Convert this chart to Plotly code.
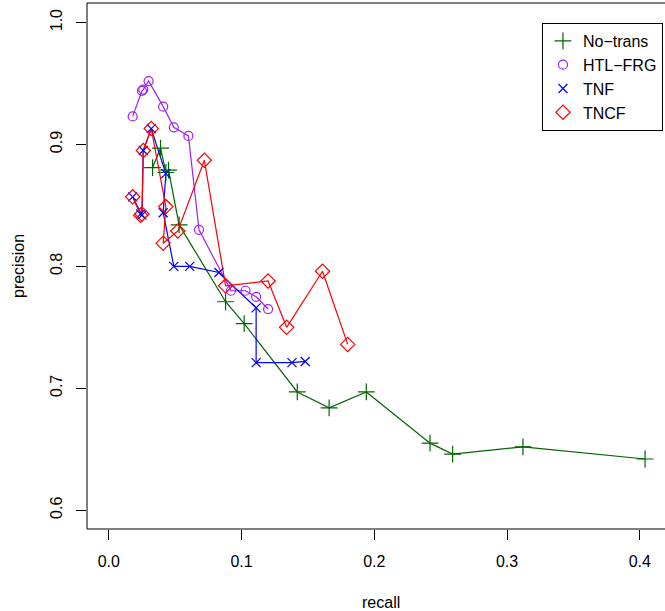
import plotly.graph_objects as go

# ---- data ----
notrans_recall = [0.033, 0.039, 0.043, 0.045, 0.053, 0.088, 0.102, 0.142, 0.166, 0.194, 0.242, 0.259, 0.312, 0.404]
notrans_prec   = [0.881, 0.897, 0.877, 0.879, 0.834, 0.771, 0.753, 0.697, 0.684, 0.697, 0.655, 0.646, 0.652, 0.642]

htl_recall = [0.018, 0.025, 0.026, 0.030, 0.041, 0.049, 0.060, 0.068, 0.092, 0.103, 0.111, 0.120]
htl_prec   = [0.923, 0.944, 0.945, 0.952, 0.931, 0.914, 0.907, 0.830, 0.780, 0.780, 0.775, 0.765]

tnf_recall = [0.018, 0.024, 0.025, 0.026, 0.032, 0.043, 0.041, 0.049, 0.061, 0.083, 0.111, 0.111, 0.138, 0.148]
tnf_prec   = [0.857, 0.843, 0.842, 0.895, 0.913, 0.876, 0.844, 0.800, 0.800, 0.795, 0.766, 0.721, 0.721, 0.722]

tncf_recall = [0.018, 0.024, 0.025, 0.026, 0.032, 0.043, 0.041, 0.052, 0.072, 0.088, 0.120, 0.134, 0.161, 0.180]
tncf_prec   = [0.857, 0.842, 0.843, 0.895, 0.913, 0.849, 0.819, 0.829, 0.887, 0.784, 0.788, 0.750, 0.796, 0.736]

series_names = ["No\u2212trans", "HTL\u2212FRG", "TNF", "TNCF"]
x_ticks = [0.0, 0.1, 0.2, 0.3, 0.4]
y_ticks = [0.6, 0.7, 0.8, 0.9, 1.0]

FONT = "Liberation Sans, Arial, Helvetica, sans-serif"
styles = [
    ("#006400", "cross-thin-open", 12),
    ("#A020F0", "circle-open", 9),
    ("#0000FF", "x-thin-open", 9),
    ("#FF0000", "diamond-open", 11),
]
data = [(notrans_recall, notrans_prec), (htl_recall, htl_prec),
        (tnf_recall, tnf_prec), (tncf_recall, tncf_prec)]

fig = go.Figure()
for (xs, ys), name, (col, sym, sz) in zip(data, series_names, styles):
    fig.add_trace(go.Scatter(x=xs, y=ys, mode="lines", showlegend=False,
                             line=dict(color=col, width=1.2), hoverinfo="skip"))
for (xs, ys), name, (col, sym, sz) in zip(data, series_names, styles):
    fig.add_trace(go.Scatter(x=xs, y=ys, mode="markers", name=name,
                             marker=dict(symbol=sym, size=sz, color=col,
                                         line=dict(color=col, width=1.2))))

W, H = 665, 611
ml, mr, mt, mb = 87, 0, 3, 82
fig.update_layout(
    width=W, height=H,
    margin=dict(l=ml, r=mr, t=mt, b=mb, autoexpand=False),
    paper_bgcolor="white", plot_bgcolor="white",
    font=dict(family=FONT, size=16, color="black"),
    showlegend=True,
    legend=dict(x=0.9965, y=0.962, xanchor="right", yanchor="top",
                bordercolor="black", borderwidth=1, bgcolor="white",
                font=dict(family=FONT, size=16, color="black"),
                itemwidth=30, tracegroupgap=0),
    xaxis=dict(range=[-0.0164, 0.4190], tickvals=x_ticks, tickformat=".1f",
               showgrid=False, zeroline=False, showline=False,
               ticks="outside", ticklen=10, tickcolor="black", tickwidth=1,
               ticklabelstandoff=8, tickfont=dict(family=FONT, size=16)),
    yaxis=dict(range=[0.5846, 1.016], tickvals=y_ticks, tickformat=".1f",
               showgrid=False, zeroline=False, showline=False,
               ticks="outside", ticklen=10, tickcolor="black", tickwidth=1,
               tickangle=-90, ticklabelstandoff=8,
               tickfont=dict(family=FONT, size=16)),
    shapes=[dict(type="rect", xref="paper", yref="paper",
                 x0=0, x1=1.0175, y0=0, y1=1,
                 line=dict(color="black", width=1), fillcolor="rgba(0,0,0,0)",
                 layer="above")],
    annotations=[
        dict(text="recall", xref="paper", yref="paper",
             x=(381 - ml) / (W - ml - mr), y=-(602 - (H - mb)) / (H - mt - mb),
             xanchor="center", yanchor="middle", showarrow=False,
             font=dict(family=FONT, size=16)),
        dict(text="precision", xref="paper", yref="paper",
             x=-(ml - 18) / (W - ml - mr), y=0.5, textangle=-90,
             xanchor="center", yanchor="middle", showarrow=False,
             font=dict(family=FONT, size=16)),
    ],
)

fig.write_html("out.html", config={"displayModeBar": False},
               post_script="document.body.style.margin='0';document.body.style.overflow='hidden';")
